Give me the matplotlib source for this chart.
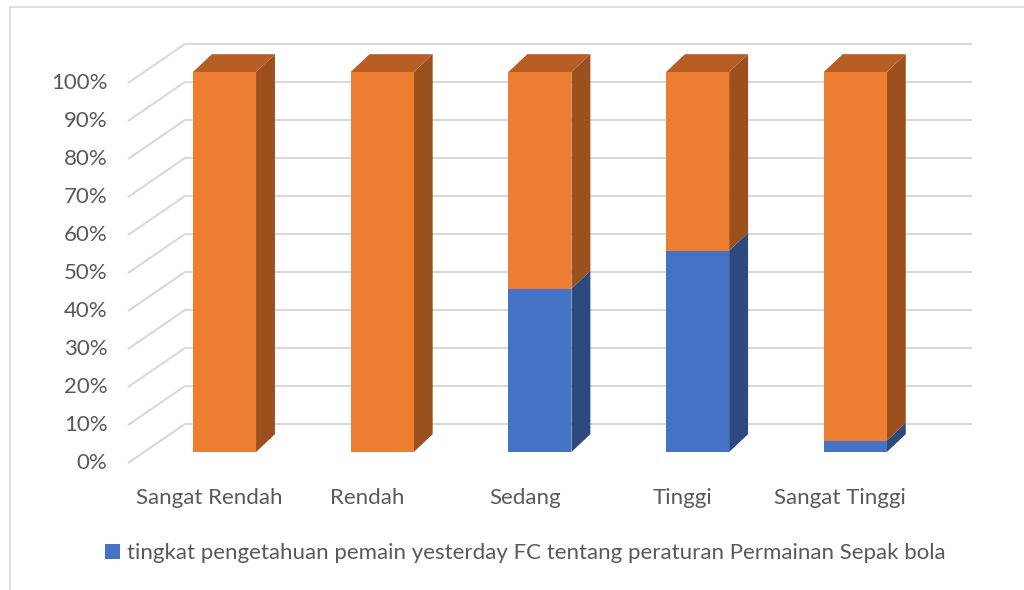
import matplotlib.pyplot as plt
from matplotlib.patches import Polygon
from matplotlib.lines import Line2D

categories = ["Sangat Rendah", "Rendah", "Sedang", "Tinggi", "Sangat Tinggi"]
blue_pct = [0, 0, 43, 53, 3]
orange_pct = [100 - b for b in blue_pct]
series_label = "tingkat pengetahuan pemain yesterday FC tentang peraturan Permainan Sepak bola"
ticks = list(range(0, 101, 10))

BLUE, BLUE_SIDE, BLUE_TOP = "#4472C4", "#2C4A80", "#3A62A8"
ORANGE, ORANGE_SIDE, ORANGE_TOP = "#ED7D31", "#9C501E", "#B65E24"
GRID = "#D9D9D9"
TEXT = "#595959"
FS = 16

plt.rcParams["font.family"] = ["Lato", "DejaVu Sans"]

fig = plt.figure(figsize=(10.24, 5.9), dpi=100)
ax = fig.add_axes([0, 0, 1, 1])
ax.set_xlim(-1.4236, 5.0697)
ax.set_ylim(-36.3, 118.95)
ax.axis("off")

# pseudo-3D geometry (category units / percent units)
bar_w = 0.40
dx, dy = 0.12, 4.7            # bar depth
wall_front_x, wall_back_x, wall_right_x = -0.612, -0.25, 4.74
front_off, back_off = -2.9, 7.4
label_shift = -0.095          # category labels sit on the front edge of the floor

# gridlines: diagonal on side wall + horizontal on back wall
for t in ticks:
    ax.plot([wall_front_x, wall_back_x], [t + front_off, t + back_off],
            color=GRID, lw=1.5, zorder=1, solid_capstyle="butt")
    ax.plot([wall_back_x, wall_right_x], [t + back_off, t + back_off],
            color=GRID, lw=1.5, zorder=1, solid_capstyle="butt")
    ax.text(-0.742, t + front_off, f"{t}%", ha="right", va="center",
            fontsize=FS, color=TEXT)

x = list(range(len(categories)))
blue_bars = ax.bar(x, blue_pct, width=bar_w, color=BLUE, zorder=3, label=series_label)
ax.bar(x, orange_pct, width=bar_w, bottom=blue_pct, color=ORANGE, zorder=3)

for i in x:
    x1 = i + bar_w / 2
    x0 = i - bar_w / 2
    segs = [(0, blue_pct[i], BLUE_SIDE), (blue_pct[i], 100, ORANGE_SIDE)]
    for y0, y1, c in segs:
        if y1 - y0 <= 0:
            continue
        ax.add_patch(Polygon([(x1, y0), (x1 + dx, y0 + dy), (x1 + dx, y1 + dy), (x1, y1)],
                             closed=True, color=c, zorder=2.5, lw=0))
    top_c = ORANGE_TOP if orange_pct[i] > 0 else BLUE_TOP
    ax.add_patch(Polygon([(x0, 100), (x0 + dx, 100 + dy), (x1 + dx, 100 + dy), (x1, 100)],
                         closed=True, color=top_c, zorder=2.5, lw=0))
    ax.text(i + label_shift, -12.0, categories[i], ha="center", va="center",
            fontsize=FS, color=TEXT)

leg = ax.legend(handles=[blue_bars], loc="center", bbox_to_anchor=(0.513, 1 - 553 / 590),
                frameon=False, fontsize=FS, handlelength=0.65, handleheight=0.65,
                handletextpad=0.3, borderaxespad=0)
for txt in leg.get_texts():
    txt.set_color(TEXT)

# chart border (top and left visible)
fig.add_artist(Line2D([10 / 1024, 10 / 1024], [0, 1 - 7 / 590], color=GRID, lw=1.2))
fig.add_artist(Line2D([10 / 1024, 1], [1 - 7 / 590, 1 - 7 / 590], color=GRID, lw=1.2))

fig.savefig("out.png", dpi=100)
